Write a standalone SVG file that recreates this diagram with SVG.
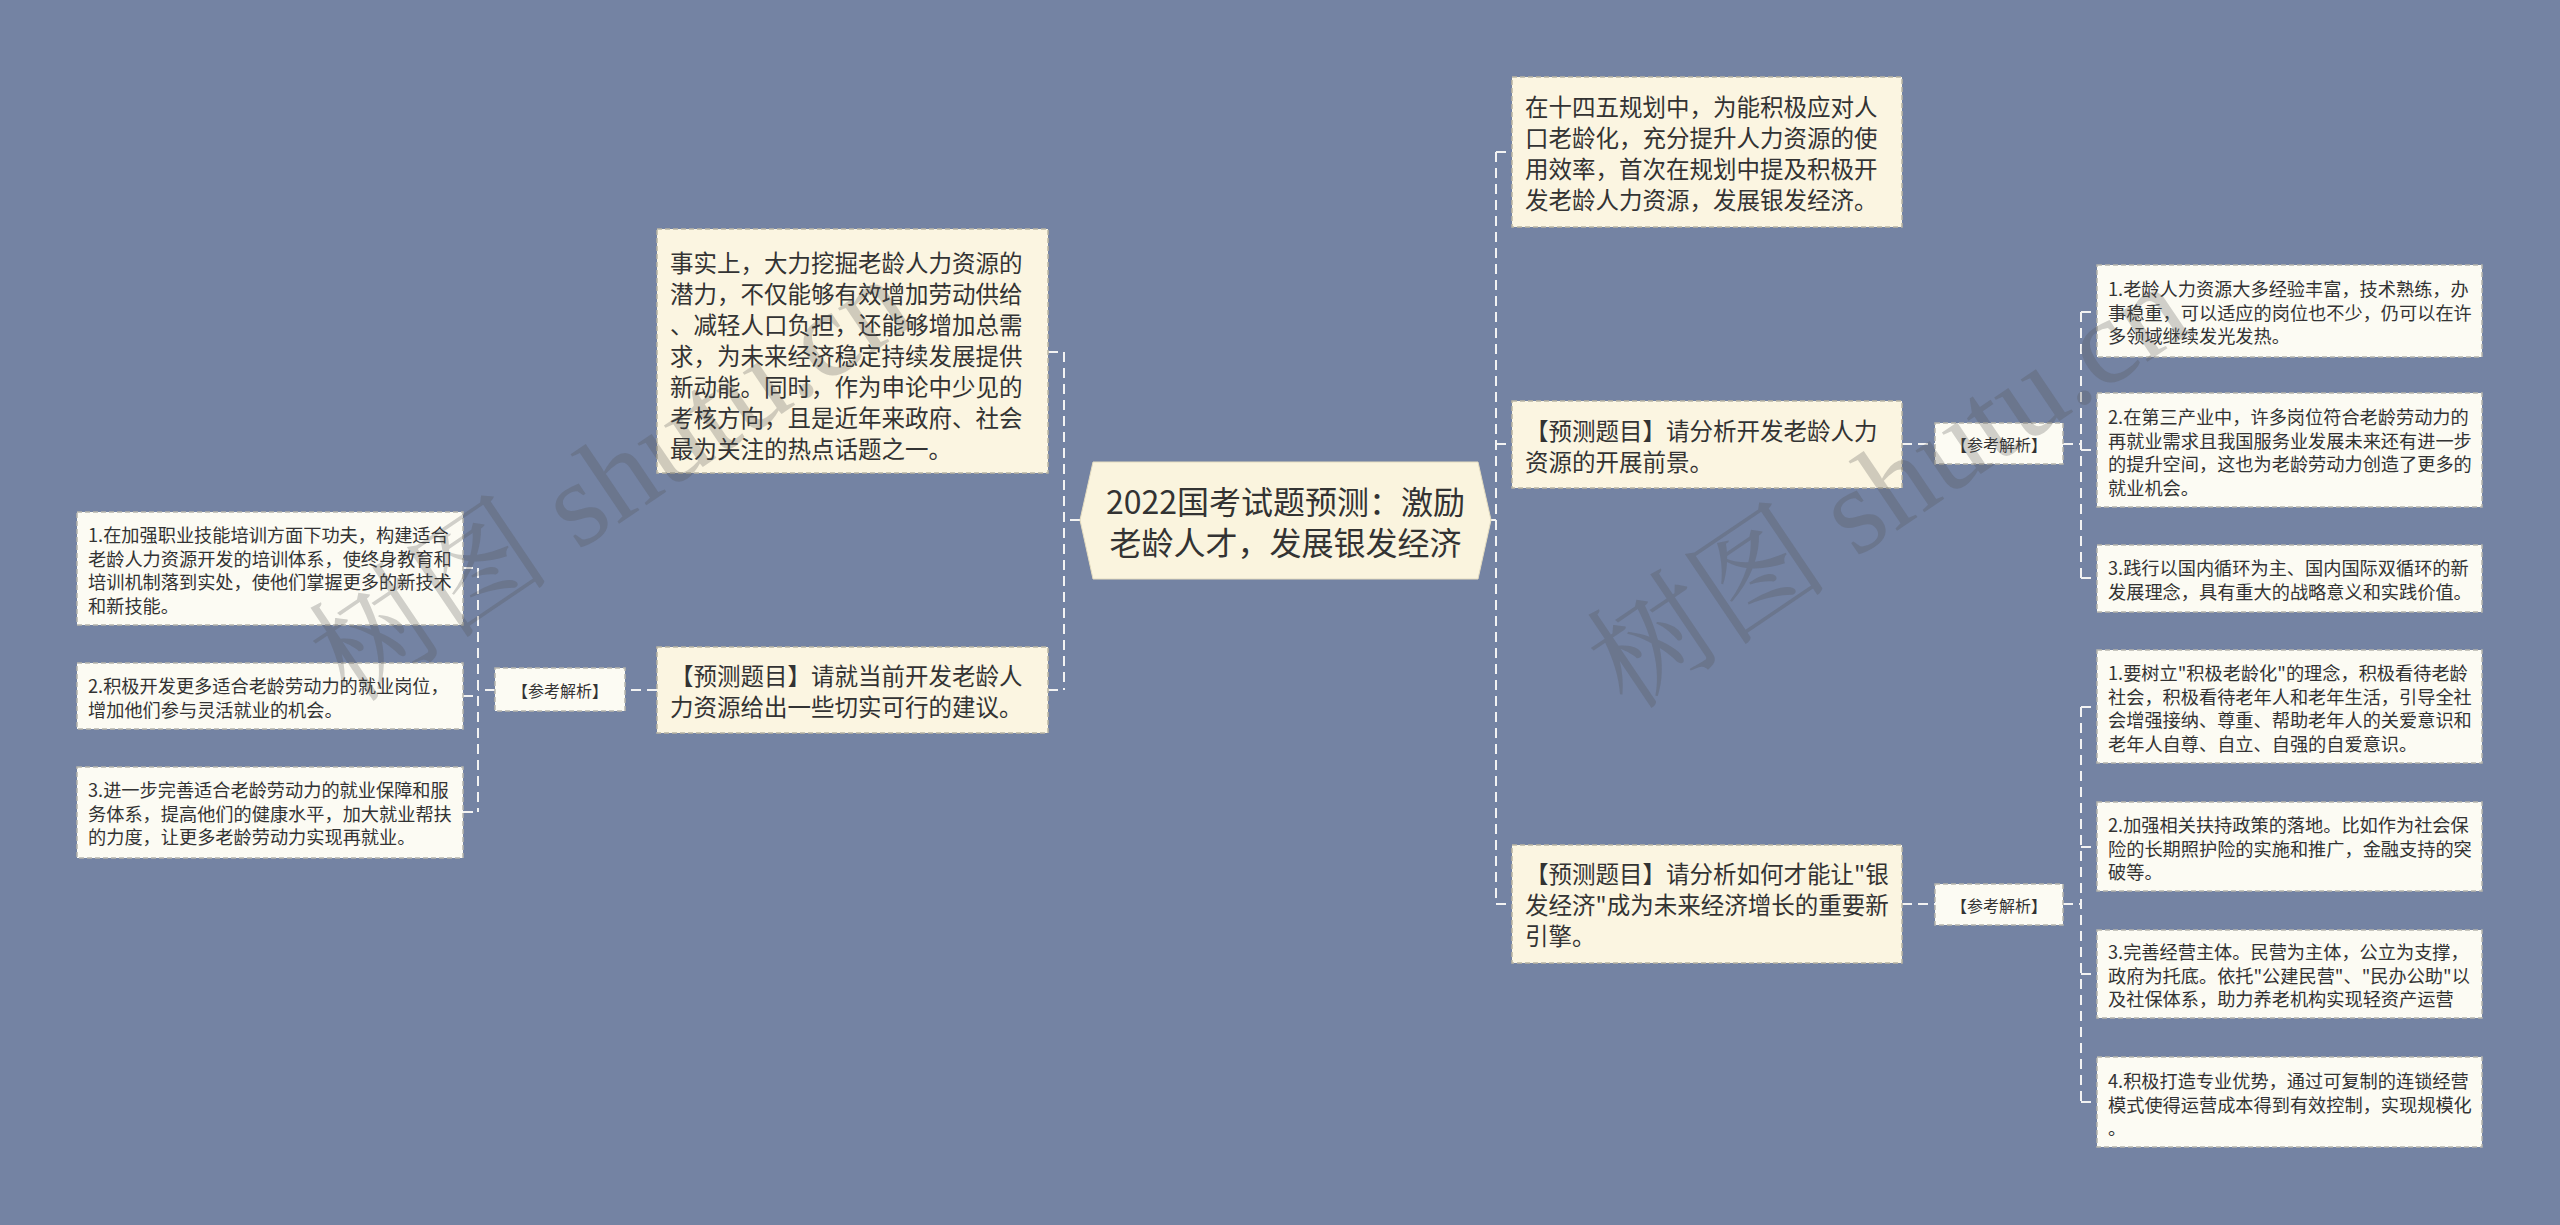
<svg xmlns="http://www.w3.org/2000/svg" width="2560" height="1225" viewBox="0 0 2560 1225">
<style>
.bg{fill:#7483a3}
.mid{fill:#fbf5e1;stroke:#b9b5a4;stroke-width:1.5;stroke-dasharray:5 3}
.leaf{fill:#fcfbf3;stroke:#b5b5ad;stroke-width:1.5;stroke-dasharray:5 3}
.ref{fill:#fcfbf3;stroke:#b5b5ad;stroke-width:1.5;stroke-dasharray:5 3}
.root{fill:#faf4de;stroke:#e4dcc0;stroke-width:1}
text{font-family:"Noto Sans CJK SC","Noto Sans",sans-serif;fill:#333;dominant-baseline:central}
.t31{font-size:32px}
.t23{font-size:23.5px}
.t18{font-size:18.2px}
.t16{font-size:16px}
.conn path{fill:none;stroke:#f2f2f2;stroke-width:2;stroke-dasharray:10 6}
.wm{font-family:"Liberation Serif","Noto Serif CJK SC","Noto Sans CJK SC",serif;font-size:122px;fill:#505050;fill-opacity:0.26;dominant-baseline:alphabetic}
</style>
<rect class="bg" x="0" y="0" width="2560" height="1225"/>
<g id="connectors" class="conn">
<path d="M1080,520H1064M1064,352V690M1048,352H1064M1048,690H1064"/>
<path d="M657,690H625M495,690H478M478,568V812M463,568H478M463,696H478M463,812H478"/>
<path d="M1491,520H1496M1496,152V904M1496,152H1512M1496,444H1512M1496,904H1512"/>
<path d="M1902,444H1935M2063,444H2081M2081,312V578M2081,312H2097M2081,450H2097M2081,578H2097"/>
<path d="M1902,904H1935M2063,904H2081M2081,707V1102M2081,707H2097M2081,847H2097M2081,974H2097M2081,1102H2097"/>
</g>
<g id="root">
<polygon class="root" points="1080,520 1093,462 1478,462 1491,520 1478,579 1093,579"/>
<text class="t31" x="1285.5" y="500" text-anchor="middle">2022国考试题预测：激励</text>
<text class="t31" x="1285.5" y="541" text-anchor="middle">老龄人才，发展银发经济</text>
</g>
<g id="left-top">
<rect class="mid" x="657" y="229" width="391" height="244"/>
<text class="t23" x="670"><tspan x="670" y="262">事实上，大力挖掘老龄人力资源的</tspan><tspan x="670" y="293">潜力，不仅能够有效增加劳动供给</tspan><tspan x="670" y="324">、减轻人口负担，还能够增加总需</tspan><tspan x="670" y="355">求，为未来经济稳定持续发展提供</tspan><tspan x="670" y="386">新动能。同时，作为申论中少见的</tspan><tspan x="670" y="417">考核方向，且是近年来政府、社会</tspan><tspan x="670" y="448">最为关注的热点话题之一。</tspan></text>
</g>
<g id="left-question">
<rect class="mid" x="657" y="647" width="391" height="86"/>
<text class="t23"><tspan x="670" y="675">【预测题目】请就当前开发老龄人</tspan><tspan x="670" y="706">力资源给出一些切实可行的建议。</tspan></text>
</g>
<g id="left-ref">
<rect class="ref" x="495" y="668" width="130" height="43"/>
<text class="t16" x="560" y="690" text-anchor="middle">【参考解析】</text>
</g>
<g id="left-leaf-1">
<rect class="leaf" x="77" y="512" width="386" height="113"/>
<text class="t18"><tspan x="88" y="534">1.在加强职业技能培训方面下功夫，构建适合</tspan><tspan x="88" y="557.5">老龄人力资源开发的培训体系，使终身教育和</tspan><tspan x="88" y="581">培训机制落到实处，使他们掌握更多的新技术</tspan><tspan x="88" y="604.5">和新技能。</tspan></text>
</g>
<g id="left-leaf-2">
<rect class="leaf" x="77" y="663" width="386" height="66"/>
<text class="t18"><tspan x="88" y="685">2.积极开发更多适合老龄劳动力的就业岗位，</tspan><tspan x="88" y="708.5">增加他们参与灵活就业的机会。</tspan></text>
</g>
<g id="left-leaf-3">
<rect class="leaf" x="77" y="767" width="386" height="91"/>
<text class="t18"><tspan x="88" y="789">3.进一步完善适合老龄劳动力的就业保障和服</tspan><tspan x="88" y="812.5">务体系，提高他们的健康水平，加大就业帮扶</tspan><tspan x="88" y="836">的力度，让更多老龄劳动力实现再就业。</tspan></text>
</g>
<g id="right-top">
<rect class="mid" x="1512" y="77" width="390" height="150"/>
<text class="t23"><tspan x="1525" y="106">在十四五规划中，为能积极应对人</tspan><tspan x="1525" y="137">口老龄化，充分提升人力资源的使</tspan><tspan x="1525" y="168">用效率，首次在规划中提及积极开</tspan><tspan x="1525" y="199">发老龄人力资源，发展银发经济。</tspan></text>
</g>
<g id="right-question-1">
<rect class="mid" x="1512" y="401" width="390" height="87"/>
<text class="t23"><tspan x="1525" y="430">【预测题目】请分析开发老龄人力</tspan><tspan x="1525" y="461">资源的开展前景。</tspan></text>
</g>
<g id="right-question-2">
<rect class="mid" x="1512" y="845" width="390" height="118"/>
<text class="t23"><tspan x="1525" y="873">【预测题目】请分析如何才能让"银</tspan><tspan x="1525" y="904">发经济"成为未来经济增长的重要新</tspan><tspan x="1525" y="935">引擎。</tspan></text>
</g>
<g id="right-ref-1">
<rect class="ref" x="1935" y="423" width="128" height="41"/>
<text class="t16" x="1999" y="444" text-anchor="middle">【参考解析】</text>
</g>
<g id="right-ref-2">
<rect class="ref" x="1935" y="884" width="128" height="41"/>
<text class="t16" x="1999" y="905" text-anchor="middle">【参考解析】</text>
</g>
<g id="r1-leaf-1">
<rect class="leaf" x="2097" y="265" width="385" height="92"/>
<text class="t18"><tspan x="2108" y="288">1.老龄人力资源大多经验丰富，技术熟练，办</tspan><tspan x="2108" y="311.5">事稳重，可以适应的岗位也不少，仍可以在许</tspan><tspan x="2108" y="335">多领域继续发光发热。</tspan></text>
</g>
<g id="r1-leaf-2">
<rect class="leaf" x="2097" y="393" width="385" height="114"/>
<text class="t18"><tspan x="2108" y="416">2.在第三产业中，许多岗位符合老龄劳动力的</tspan><tspan x="2108" y="439.5">再就业需求且我国服务业发展未来还有进一步</tspan><tspan x="2108" y="463">的提升空间，这也为老龄劳动力创造了更多的</tspan><tspan x="2108" y="486.5">就业机会。</tspan></text>
</g>
<g id="r1-leaf-3">
<rect class="leaf" x="2097" y="545" width="385" height="67"/>
<text class="t18"><tspan x="2108" y="567">3.践行以国内循环为主、国内国际双循环的新</tspan><tspan x="2108" y="590.5">发展理念，具有重大的战略意义和实践价值。</tspan></text>
</g>
<g id="r2-leaf-1">
<rect class="leaf" x="2097" y="650" width="385" height="113"/>
<text class="t18"><tspan x="2108" y="672">1.要树立"积极老龄化"的理念，积极看待老龄</tspan><tspan x="2108" y="695.5">社会，积极看待老年人和老年生活，引导全社</tspan><tspan x="2108" y="719">会增强接纳、尊重、帮助老年人的关爱意识和</tspan><tspan x="2108" y="742.5">老年人自尊、自立、自强的自爱意识。</tspan></text>
</g>
<g id="r2-leaf-2">
<rect class="leaf" x="2097" y="802" width="385" height="89"/>
<text class="t18"><tspan x="2108" y="824">2.加强相关扶持政策的落地。比如作为社会保</tspan><tspan x="2108" y="847.5">险的长期照护险的实施和推广，金融支持的突</tspan><tspan x="2108" y="871">破等。</tspan></text>
</g>
<g id="r2-leaf-3">
<rect class="leaf" x="2097" y="930" width="385" height="88"/>
<text class="t18"><tspan x="2108" y="951">3.完善经营主体。民营为主体，公立为支撑，</tspan><tspan x="2108" y="974.5">政府为托底。依托"公建民营"、"民办公助"以</tspan><tspan x="2108" y="998">及社保体系，助力养老机构实现轻资产运营</tspan></text>
</g>
<g id="r2-leaf-4">
<rect class="leaf" x="2097" y="1057" width="385" height="90"/>
<text class="t18"><tspan x="2108" y="1080">4.积极打造专业优势，通过可复制的连锁经营</tspan><tspan x="2108" y="1103.5">模式使得运营成本得到有效控制，实现规模化</tspan><tspan x="2108" y="1127">。</tspan></text>
</g>
<g id="watermarks">
<text class="wm" transform="translate(350,705) rotate(-34)">树图 shutu.cn</text>
<text class="wm" transform="translate(1628,712) rotate(-34)">树图 shutu.cn</text>
</g>
</svg>
